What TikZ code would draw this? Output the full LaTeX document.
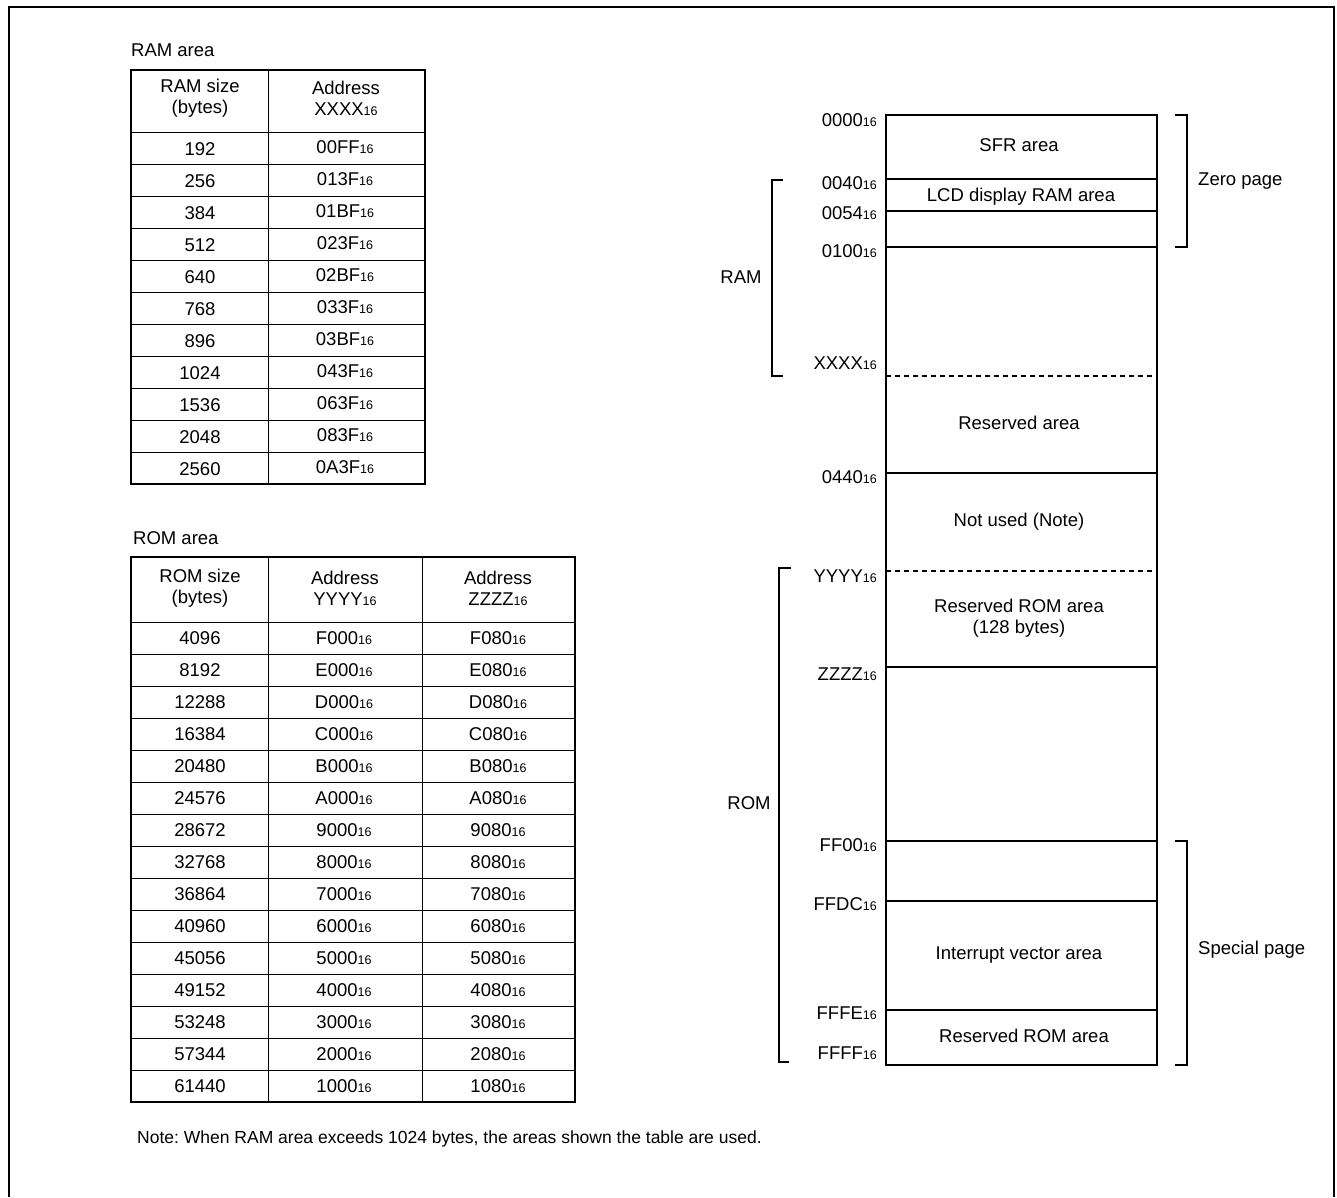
\documentclass[tikz,border=0pt]{standalone}
\usepackage{fontspec}
\setmainfont{Liberation Sans}
\frenchspacing
\newcommand{\hx}[1]{#1{\fontsize{12.5}{12.5}\selectfont 16}}

\begin{document}
\begin{tikzpicture}[x=1pt, y=-1pt,
    txt/.style={inner sep=0pt, font=\fontsize{18.5}{21}\selectfont, align=center},
    outer/.style={line width=2pt},
    inner/.style={line width=1pt},
    brk/.style={line width=1.2pt}]
    \useasboundingbox (0,0) rectangle (1337,1197);
    % frame
    \draw[outer] (9,1197) -- (9,7) -- (1334,7) -- (1334,1197);

    % RAM table
    \node[txt, anchor=west] (ramtitle) at (131,50) {RAM area};
    \draw[outer] (131,70) rectangle (425,484);
    \draw[inner] (268,70) -- (268,484);
    \draw[inner] (131,132) -- (425,132);
    \node[txt] (ramhd1) at (200,98) {RAM size\\(bytes)};
    \node[txt] (ramhd2) at (346,98) {Address\\\hx{XXXX}};
    \foreach \s/\a [count=\i] in {192/00FF, 256/013F, 384/01BF, 512/023F,
        640/02BF, 768/033F, 896/03BF, 1024/043F, 1536/063F, 2048/083F, 2560/0A3F} {
        \node[txt] (ramsz\i) at (200,117+32*\i) {\s};
        \node[txt] (ramad\i) at (345,115+32*\i) {\hx{\a}};
        \ifnum\i<11 \draw[inner] (131,132+32*\i) -- (425,132+32*\i); \fi
    }

    % ROM table
    \node[txt, anchor=west] (romtitle) at (133,538) {ROM area};
    \draw[outer] (131,557) rectangle (575,1102);
    \draw[inner] (268,557) -- (268,1102);
    \draw[inner] (422,557) -- (422,1102);
    \draw[inner] (131,622) -- (575,622);
    \node[txt] (romhd1) at (200,588) {ROM size\\(bytes)};
    \node[txt] (romhd2) at (345,588) {Address\\\hx{YYYY}};
    \node[txt] (romhd3) at (498,588) {Address\\\hx{ZZZZ}};
    \foreach \s/\a/\b [count=\i] in {4096/F000/F080, 8192/E000/E080, 12288/D000/D080,
        16384/C000/C080, 20480/B000/B080, 24576/A000/A080, 28672/9000/9080,
        32768/8000/8080, 36864/7000/7080, 40960/6000/6080, 45056/5000/5080,
        49152/4000/4080, 53248/3000/3080, 57344/2000/2080, 61440/1000/1080} {
        \node[txt] (romsz\i) at (200,606+32*\i) {\s};
        \node[txt] (romya\i) at (344,606+32*\i) {\hx{\a}};
        \node[txt] (romza\i) at (498,606+32*\i) {\hx{\b}};
        \ifnum\i<15 \draw[inner] (131,622+32*\i) -- (575,622+32*\i); \fi
    }

    % memory map
    \draw[line width=1.6pt] (886,115) rectangle (1157,1065);
    \foreach \y in {179,211,247,473,667,841,901,1010}
        \draw[line width=1.4pt] (886,\y) -- (1157,\y);
    \foreach \y in {376,571}
        \draw[line width=1.4pt, dash pattern=on 5pt off 4pt] (886,\y) -- (1157,\y);
    \foreach \a/\y [count=\i] in {0000/120, 0040/183, 0054/213, 0100/251, XXXX/363,
        0440/477, YYYY/576, ZZZZ/674, FF00/845, FFDC/904, FFFE/1013, FFFF/1053}
        \node[txt, anchor=east] (addr\i) at (877,\y) {\hx{\a}};

    \node[txt] (sfr) at (1019,145) {SFR area};
    \node[txt] (lcd) at (1021,197) {LCD display RAM area};
    \node[txt] (resv) at (1019,423) {Reserved area};
    \node[txt] (unused) at (1019,522) {Not used (Note)};
    \node[txt] (resrom) at (1019,618) {Reserved ROM area\\(128 bytes)};
    \node[txt] (vect) at (1019,955) {Interrupt vector area};
    \node[txt] (resrom2) at (1024,1036) {Reserved ROM area};

    % brackets
    \draw[brk] (1175,115) -- (1187,115) -- (1187,247) -- (1175,247);
    \node[txt, anchor=west] (zero) at (1198,181) {Zero page};
    \draw[brk] (1175,841) -- (1187,841) -- (1187,1065) -- (1175,1065);
    \node[txt, anchor=west] (special) at (1198,950) {Special page};
    \draw[brk] (783,180) -- (772,180) -- (772,376) -- (783,376);
    \node[txt] (ram) at (741,277) {RAM};
    \draw[brk] (791,568) -- (779,568) -- (779,1062) -- (789,1062);
    \node[txt] (rom) at (749,803) {ROM};

    % note
    \node[txt, anchor=west, font=\fontsize{17.5}{21}\selectfont] (note) at (137,1139) {Note: When RAM area exceeds 1024 bytes, the areas shown the table are used.};
\end{tikzpicture}
\end{document}
